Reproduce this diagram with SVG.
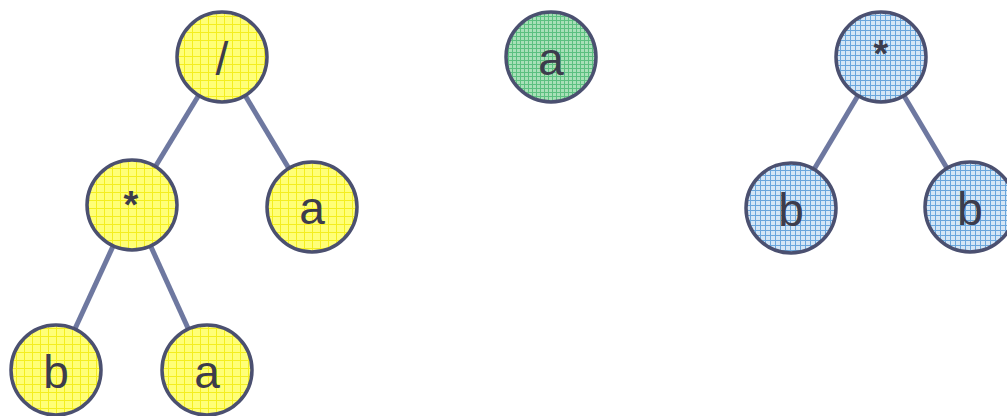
<svg xmlns="http://www.w3.org/2000/svg" width="1007" height="416" viewBox="0 0 1007 416">
<defs>
<pattern id="py" width="8" height="8" patternUnits="userSpaceOnUse">
<rect width="8" height="8" fill="#ffff78"/>
<path d="M0 0.5H8M0.5 0V8" stroke="#f4ee20" stroke-width="1"/>
</pattern>
<pattern id="pg" width="4" height="4" patternUnits="userSpaceOnUse">
<rect width="4" height="4" fill="#a8e0b8"/>
<path d="M0 0.5H4M0.5 0V4" stroke="#5cc080" stroke-width="1"/>
</pattern>
<pattern id="pb" width="5" height="5" patternUnits="userSpaceOnUse">
<rect width="5" height="5" fill="#d4e6f6"/>
<path d="M0 0.5H5M0.5 0V5" stroke="#6aa6dc" stroke-width="1"/>
</pattern>
</defs>
<style>
.n{stroke:#4b5070;stroke-width:3.5}
.y{fill:url(#py)}
.g{fill:url(#pg)}
.b{fill:url(#pb)}
.t{font-family:"Liberation Sans",Arial,sans-serif;font-size:46px;fill:#3c3c4c;text-anchor:middle}
.s{font-size:38px;font-weight:bold}
#edges line{stroke:#6e78a0;stroke-width:5}
</style>
<g id="edges">
<line x1="222" y1="57" x2="132" y2="205"/>
<line x1="222" y1="57" x2="312" y2="207"/>
<line x1="132" y1="205" x2="56" y2="370"/>
<line x1="132" y1="205" x2="207" y2="370"/>
<line x1="881" y1="57" x2="791" y2="208"/>
<line x1="881" y1="57" x2="970" y2="207"/>
</g>
<g id="n1"><circle class="n y" cx="222" cy="57" r="45"/><text class="t" x="222" y="75">/</text></g>
<g id="n2"><circle class="n y" cx="132" cy="205" r="45"/><text class="t s" x="131" y="218">*</text></g>
<g id="n3"><circle class="n y" cx="312" cy="207" r="45"/><text class="t" x="312" y="224">a</text></g>
<g id="n4"><circle class="n y" cx="56" cy="370" r="45"/><text class="t" x="56" y="388">b</text></g>
<g id="n5"><circle class="n y" cx="207" cy="370" r="45"/><text class="t" x="207" y="388">a</text></g>
<g id="n6"><circle class="n g" cx="551" cy="57" r="45"/><text class="t" x="551" y="75">a</text></g>
<g id="n7"><circle class="n b" cx="881" cy="57" r="45"/><text class="t s" x="881" y="67">*</text></g>
<g id="n8"><circle class="n b" cx="791" cy="208" r="45"/><text class="t" x="791" y="226">b</text></g>
<g id="n9"><circle class="n b" cx="970" cy="207" r="45"/><text class="t" x="970" y="225">b</text></g>
</svg>
